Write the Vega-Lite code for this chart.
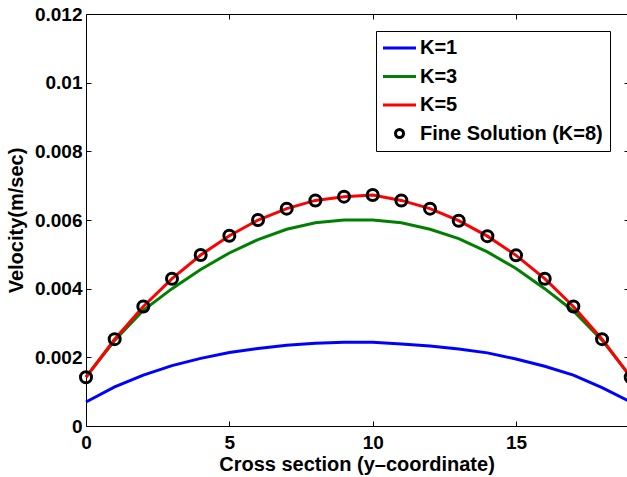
{
  "$schema": "https://vega.github.io/schema/vega-lite/v6.json",
  "width": 541,
  "height": 412,
  "autosize": "none",
  "padding": {"left": 86, "top": 14, "right": 0, "bottom": 51},
  "background": "white",
  "config": {
    "view": {"stroke": null},
    "font": "Liberation Sans",
    "axis": {
      "grid": false,
      "domainColor": "black",
      "domainWidth": 1,
      "tickColor": "black",
      "tickWidth": 1,
      "labelColor": "black",
      "titleColor": "black",
      "labelFont": "Liberation Sans",
      "titleFont": "Liberation Sans",
      "labelFontWeight": "bold",
      "titleFontWeight": "bold",
      "labelFontSize": 19,
      "titleFontSize": 20,
      "labelFlush": false,
      "labelOverlap": false
    }
  },
  "datasets": {
    "curves": [
      {"x": 0, "K": "K=1", "v": 0.0007},
      {"x": 1, "K": "K=1", "v": 0.00114},
      {"x": 2, "K": "K=1", "v": 0.00148},
      {"x": 3, "K": "K=1", "v": 0.00176},
      {"x": 4, "K": "K=1", "v": 0.00197},
      {"x": 5, "K": "K=1", "v": 0.00214},
      {"x": 6, "K": "K=1", "v": 0.00226},
      {"x": 7, "K": "K=1", "v": 0.00235},
      {"x": 8, "K": "K=1", "v": 0.00241},
      {"x": 9, "K": "K=1", "v": 0.00244},
      {"x": 10, "K": "K=1", "v": 0.00244},
      {"x": 11, "K": "K=1", "v": 0.00239},
      {"x": 12, "K": "K=1", "v": 0.00233},
      {"x": 13, "K": "K=1", "v": 0.00224},
      {"x": 14, "K": "K=1", "v": 0.00213},
      {"x": 15, "K": "K=1", "v": 0.00195},
      {"x": 16, "K": "K=1", "v": 0.00174},
      {"x": 17, "K": "K=1", "v": 0.00148},
      {"x": 18, "K": "K=1", "v": 0.00112},
      {"x": 19, "K": "K=1", "v": 0.0007},
      {"x": 0, "K": "K=3", "v": 0.00143},
      {"x": 1, "K": "K=3", "v": 0.00249},
      {"x": 2, "K": "K=3", "v": 0.00337},
      {"x": 3, "K": "K=3", "v": 0.0040},
      {"x": 4, "K": "K=3", "v": 0.00456},
      {"x": 5, "K": "K=3", "v": 0.00504},
      {"x": 6, "K": "K=3", "v": 0.00543},
      {"x": 7, "K": "K=3", "v": 0.00573},
      {"x": 8, "K": "K=3", "v": 0.00592},
      {"x": 9, "K": "K=3", "v": 0.0060},
      {"x": 10, "K": "K=3", "v": 0.0060},
      {"x": 11, "K": "K=3", "v": 0.00592},
      {"x": 12, "K": "K=3", "v": 0.00573},
      {"x": 13, "K": "K=3", "v": 0.00546},
      {"x": 14, "K": "K=3", "v": 0.00507},
      {"x": 15, "K": "K=3", "v": 0.00459},
      {"x": 16, "K": "K=3", "v": 0.0040},
      {"x": 17, "K": "K=3", "v": 0.00335},
      {"x": 18, "K": "K=3", "v": 0.0025},
      {"x": 19, "K": "K=3", "v": 0.00143},
      {"x": 0, "K": "K=5", "v": 0.00142},
      {"x": 1, "K": "K=5", "v": 0.00253},
      {"x": 2, "K": "K=5", "v": 0.00348},
      {"x": 3, "K": "K=5", "v": 0.00429},
      {"x": 4, "K": "K=5", "v": 0.00498},
      {"x": 5, "K": "K=5", "v": 0.00554},
      {"x": 6, "K": "K=5", "v": 0.0060},
      {"x": 7, "K": "K=5", "v": 0.00633},
      {"x": 8, "K": "K=5", "v": 0.00657},
      {"x": 9, "K": "K=5", "v": 0.00668},
      {"x": 10, "K": "K=5", "v": 0.00673},
      {"x": 11, "K": "K=5", "v": 0.00657},
      {"x": 12, "K": "K=5", "v": 0.00633},
      {"x": 13, "K": "K=5", "v": 0.00598},
      {"x": 14, "K": "K=5", "v": 0.00553},
      {"x": 15, "K": "K=5", "v": 0.00497},
      {"x": 16, "K": "K=5", "v": 0.00429},
      {"x": 17, "K": "K=5", "v": 0.00348},
      {"x": 18, "K": "K=5", "v": 0.00253},
      {"x": 19, "K": "K=5", "v": 0.00142}
    ],
    "fine": [
      {"x": 0, "v": 0.00142},
      {"x": 1, "v": 0.00253},
      {"x": 2, "v": 0.00348},
      {"x": 3, "v": 0.00429},
      {"x": 4, "v": 0.00498},
      {"x": 5, "v": 0.00554},
      {"x": 6, "v": 0.0060},
      {"x": 7, "v": 0.00633},
      {"x": 8, "v": 0.00657},
      {"x": 9, "v": 0.00668},
      {"x": 10, "v": 0.00673},
      {"x": 11, "v": 0.00657},
      {"x": 12, "v": 0.00633},
      {"x": 13, "v": 0.00598},
      {"x": 14, "v": 0.00553},
      {"x": 15, "v": 0.00497},
      {"x": 16, "v": 0.00429},
      {"x": 17, "v": 0.00348},
      {"x": 18, "v": 0.00253},
      {"x": 19, "v": 0.00142}
    ]
  },
  "layer": [
    {
      "data": {"name": "curves"},
      "mark": {"type": "line", "strokeWidth": 3, "clip": false},
      "encoding": {
        "x": {
          "field": "x", "type": "quantitative",
          "scale": {"domain": [0, 18.87], "nice": false, "zero": false},
          "axis": {
            "orient": "bottom",
            "values": [0, 5, 10, 15],
            "tickSize": -5,
            "labelPadding": 12,
            "title": "Cross section (y–coordinate)",
            "titlePadding": 2
          }
        },
        "y": {
          "field": "v", "type": "quantitative",
          "scale": {"domain": [0, 0.012], "nice": false},
          "axis": {
            "orient": "left",
            "values": [0, 0.002, 0.004, 0.006, 0.008, 0.01, 0.012],
            "format": "~g",
            "tickSize": -5,
            "labelPadding": 9,
            "title": "Velocity(m/sec)",
            "titlePadding": 8
          }
        },
        "color": {
          "field": "K", "type": "nominal",
          "scale": {
            "domain": ["K=1", "K=3", "K=5", "Fine Solution (K=8)"],
            "range": ["#0000ff", "#008000", "#ff0000", "#000000"]
          },
          "legend": {
            "title": null,
            "orient": "top-right",
            "offset": 17,
            "strokeColor": "black",
            "fillColor": "white",
            "padding": 7,
            "rowPadding": 8.5,
            "labelFont": "Liberation Sans",
            "labelFontSize": 20,
            "labelFontWeight": "bold",
            "labelColor": "black",
            "labelLimit": 0,
            "labelOffset": 1,
            "symbolSize": 400,
            "symbolStrokeWidth": 3,
            "symbolType": "stroke",
            "encode": {
              "symbols": {
                "update": {
                  "shape": {"signal": "datum.value === 'Fine Solution (K=8)' ? 'circle' : 'stroke'"},
                  "size": {"signal": "datum.value === 'Fine Solution (K=8)' ? 64 : 1089"},
                  "x": {"value": 16.5},
                  "y": {"value": 10},
                  "stroke": {"scale": "color", "field": "value"},
                  "fill": {"value": "transparent"},
                  "strokeWidth": {"value": 3}
                }
              },
              "labels": {
                "update": {
                  "y": {"value": 10}
                }
              }
            }
          }
        }
      }
    },
    {
      "data": {"name": "fine"},
      "mark": {"type": "point", "filled": false, "size": 121, "strokeWidth": 3, "color": "black", "opacity": 1, "clip": false},
      "encoding": {
        "x": {
          "field": "x", "type": "quantitative",
          "scale": {"domain": [0, 18.87], "nice": false, "zero": false},
          "axis": {"orient": "top", "values": [0, 5, 10, 15], "tickSize": -5, "labels": false, "title": null}
        },
        "y": {
          "field": "v", "type": "quantitative",
          "scale": {"domain": [0, 0.012], "nice": false},
          "axis": {"orient": "right", "values": [0, 0.002, 0.004, 0.006, 0.008, 0.01, 0.012], "tickSize": -3, "labels": false, "domain": false, "title": null}
        }
      }
    }
  ],
  "resolve": {"axis": {"x": "independent", "y": "independent"}}
}
